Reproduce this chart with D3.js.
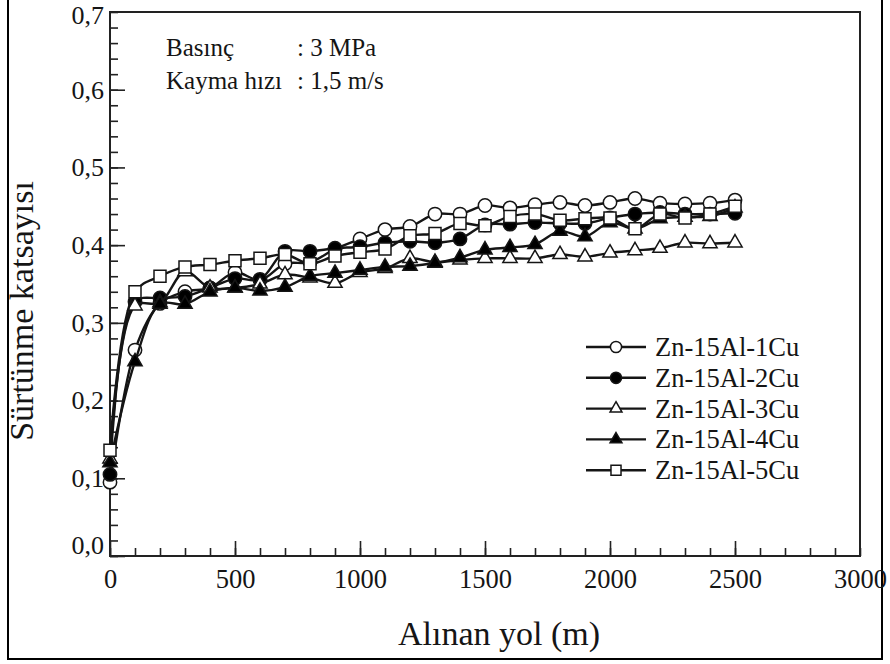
<!DOCTYPE html>
<html>
<head>
<meta charset="utf-8">
<script src="https://cdn.jsdelivr.net/npm/d3@7"></script>
<style>
  body { margin: 0; background: #fff; }
  svg text { font-family: "Liberation Serif", "Times New Roman", "DejaVu Serif", serif !important; }
</style>
</head>
<body>
<svg id="chart" width="890" height="664"></svg>
<script>
// Sliding distance (m)
const distance = [0, 100, 200, 300, 400, 500, 600, 700, 800, 900, 1000, 1100, 1200,
  1300, 1400, 1500, 1600, 1700, 1800, 1900, 2000, 2100, 2200, 2300, 2400, 2500];

// Friction coefficient per alloy
const cu1 = [0.095, 0.265, 0.325, 0.340, 0.345, 0.365, 0.355, 0.376, 0.378, 0.395, 0.408, 0.420, 0.424,
  0.440, 0.440, 0.451, 0.448, 0.452, 0.455, 0.451, 0.455, 0.460, 0.454, 0.453, 0.454, 0.458];
const cu2 = [0.105, 0.327, 0.332, 0.334, 0.345, 0.357, 0.356, 0.392, 0.392, 0.396, 0.398, 0.403, 0.405,
  0.403, 0.408, 0.426, 0.427, 0.429, 0.428, 0.428, 0.435, 0.440, 0.442, 0.440, 0.440, 0.441];
const cu3 = [0.125, 0.322, 0.326, 0.366, 0.345, 0.345, 0.350, 0.362, 0.358, 0.351, 0.365, 0.370, 0.383,
  0.378, 0.381, 0.383, 0.383, 0.383, 0.388, 0.385, 0.390, 0.393, 0.396, 0.403, 0.402, 0.403];
const cu4 = [0.120, 0.250, 0.324, 0.324, 0.340, 0.345, 0.341, 0.346, 0.360, 0.364, 0.368, 0.372, 0.373,
  0.377, 0.384, 0.394, 0.397, 0.401, 0.418, 0.411, 0.429, 0.421, 0.434, 0.436, 0.437, 0.448];
const cu5 = [0.136, 0.340, 0.360, 0.372, 0.375, 0.380, 0.383, 0.388, 0.376, 0.386, 0.391, 0.395, 0.412,
  0.415, 0.428, 0.425, 0.437, 0.440, 0.432, 0.434, 0.435, 0.421, 0.440, 0.435, 0.440, 0.450];

const seriesNames = ["Zn-15Al-1Cu", "Zn-15Al-2Cu", "Zn-15Al-3Cu", "Zn-15Al-4Cu", "Zn-15Al-5Cu"];
const seriesValues = [cu1, cu2, cu3, cu4, cu5];
const seriesShapes = ["circle", "circle", "triangle", "triangle", "square"];
const seriesFilled = [false, true, false, true, false];

const xTicks = [0, 500, 1000, 1500, 2000, 2500, 3000];
const yTicks = [0, 0.1, 0.2, 0.3, 0.4, 0.5, 0.6, 0.7];

const xLabel = "Alınan yol (m)";
const yLabel = "Sürtünme katsayısı";
const infoLines = [["Basınç", ": 3 MPa"], ["Kayma hızı", ": 1,5 m/s"]];

const ink = "#151515";
const svg = d3.select("#chart");
const plot = { left: 110, right: 860, top: 12, bottom: 556 };

// Outer frame
svg.append("rect")
  .attr("x", 8).attr("y", -2).attr("width", 874).attr("height", 661)
  .attr("fill", "none").attr("stroke", "#000").attr("stroke-width", 2);

const x = d3.scaleLinear().domain([0, 3000]).range([plot.left, plot.right]);
const y = d3.scaleLinear().domain([0, 0.7]).range([plot.bottom, plot.top]);

// Plot box
svg.append("rect")
  .attr("x", plot.left).attr("y", plot.top)
  .attr("width", plot.right - plot.left).attr("height", plot.bottom - plot.top)
  .attr("fill", "none").attr("stroke", "#222").attr("stroke-width", 2);

const comma = v => d3.format(".1f")(v).replace(".", ",");

// Minor ticks (inward)
svg.append("g").attr("transform", `translate(0,${plot.bottom})`)
  .call(d3.axisTop(x).tickValues(d3.range(0, 3001, 100)).tickSize(8).tickFormat(""))
  .call(g => g.select(".domain").remove());
svg.append("g").attr("transform", `translate(${plot.left},0)`)
  .call(d3.axisRight(y).tickValues(d3.range(0, 0.7001, 0.02)).tickSize(8).tickFormat(""))
  .call(g => g.select(".domain").remove());

// Major ticks (inward, longer)
svg.append("g").attr("transform", `translate(0,${plot.bottom})`)
  .call(d3.axisTop(x).tickValues(xTicks.slice(0, -1)).tickSize(15).tickFormat(""))
  .call(g => g.select(".domain").remove());
svg.append("g").attr("transform", `translate(${plot.left},0)`)
  .call(d3.axisRight(y).tickValues(yTicks.slice(0, -1)).tickSize(15).tickFormat(""))
  .call(g => g.select(".domain").remove());
svg.selectAll(".tick line").attr("stroke", "#222").attr("stroke-width", 1.6);

// Tick labels
svg.append("g").attr("transform", `translate(0,${plot.bottom})`)
  .call(d3.axisBottom(x).tickValues(xTicks).tickSize(0).tickPadding(13).tickFormat(d3.format("d")))
  .call(g => g.select(".domain").remove())
  .call(g => g.selectAll("text").attr("font-size", 26.5).attr("fill", ink));

svg.append("g").attr("transform", `translate(${plot.left},0)`)
  .call(d3.axisLeft(y).tickValues(yTicks).tickSize(0).tickPadding(6).tickFormat(comma))
  .call(g => g.select(".domain").remove())
  .call(g => g.selectAll("text").attr("font-size", 26).attr("fill", ink)
    .attr("dy", d => d === 0 ? "-0.1em" : d > 0.65 ? "0.45em" : "0.32em"));

// Axis titles
svg.append("text")
  .attr("x", 499).attr("y", 645)
  .attr("text-anchor", "middle").attr("font-size", 34).attr("fill", ink)
  .text(xLabel);
svg.append("text")
  .attr("transform", `translate(33,311) rotate(-90)`)
  .attr("text-anchor", "middle").attr("font-size", 34).attr("fill", ink)
  .text(yLabel);

// Test conditions
infoLines.forEach((ln, i) => {
  const ty = 56 + i * 33;
  svg.append("text").attr("x", 166).attr("y", ty).attr("font-size", 25).attr("fill", ink).text(ln[0]);
  svg.append("text").attr("x", 297).attr("y", ty).attr("font-size", 25).attr("fill", ink).text(ln[1]);
});

// Marker generator
function markerPath(shape, scale) {
  const k = scale || 1;
  if (shape === "circle") return d3.symbol(d3.symbolCircle, 140 * k)();
  if (shape === "square") return d3.symbol(d3.symbolSquare, 144 * k)();
  return d3.symbol(d3.symbolTriangle, 88 * k)();
}

const line = d3.line()
  .x((d, i) => x(distance[i]))
  .y(d => y(d))
  .curve(d3.curveCatmullRom.alpha(0.5));

seriesValues.forEach((vals, s) => {
  const g = svg.append("g").attr("class", "series");
  g.append("path").datum(vals)
    .attr("d", line).attr("fill", "none").attr("stroke", ink).attr("stroke-width", 2.4);
  g.selectAll("path.mk").data(vals).join("path").attr("class", "mk")
    .attr("d", markerPath(seriesShapes[s]))
    .attr("transform", (d, i) => `translate(${x(distance[i])},${y(d)})`)
    .attr("fill", seriesFilled[s] ? "#000" : "#fff")
    .attr("stroke", ink).attr("stroke-width", 1.5);
});

// Legend
const legend = svg.append("g").attr("transform", "translate(586,347)");
seriesNames.forEach((name, s) => {
  const ly = s * 30.8;
  legend.append("line").attr("x1", 0).attr("x2", 60).attr("y1", ly).attr("y2", ly)
    .attr("stroke", ink).attr("stroke-width", 2.4);
  legend.append("path").attr("d", markerPath(seriesShapes[s], 0.7))
    .attr("transform", `translate(30,${ly})`)
    .attr("fill", seriesFilled[s] ? "#000" : "#fff").attr("stroke", ink).attr("stroke-width", 1.5);
  legend.append("text").attr("x", 69).attr("y", ly).attr("dy", "0.34em")
    .attr("font-size", 26.5).attr("fill", ink).text(name);
});
</script>
</body>
</html>
